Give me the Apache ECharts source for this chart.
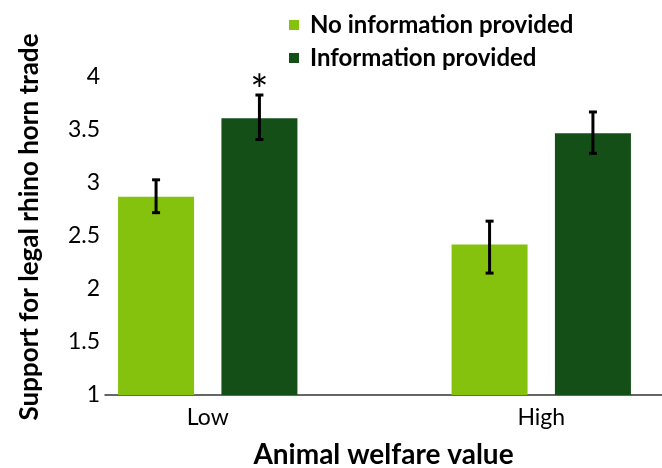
<!DOCTYPE html>
<html>
<head>
<meta charset="utf-8">
<script src="https://cdn.jsdelivr.net/npm/echarts@6/dist/echarts.min.js"></script>
<style>
  html, body { margin: 0; padding: 0; background: #fff; }
  #chart { width: 662px; height: 468px; }
</style>
</head>
<body>
<div id="chart"></div>
<script>
// data
var categories = ['Low', 'High'];
var seriesNames = ['No information provided', 'Information provided'];

var noInfoMeans = [2.87, 2.42];
var noInfoLower = [2.72, 2.15];
var noInfoUpper = [3.03, 2.64];

var infoMeans = [3.61, 3.47];
var infoLower = [3.41, 3.28];
var infoUpper = [3.83, 3.67];

// significance marks over the "information provided" bars
var infoSig = ['*', ''];

var yMin = 1, yMax = 4, yStep = 0.5;

var lightGreen = '#85c20d';
var darkGreen = '#134f17';
var barWidth = 76;
var barGap = 0.36;
var font = 'Lato, "Open Sans", sans-serif';

// error bars for one series (k = 0 left bar, k = 1 right bar)
function errorSeries(k, lower, upper, marks) {
  return {
    type: 'custom',
    xAxisIndex: 1,
    yAxisIndex: 1,
    z: 5,
    silent: true,
    clip: false,
    data: categories.map(function (c, i) {
      return [i, lower[i], upper[i]];
    }),
    renderItem: function (params, api) {
      var off = (k - 0.5) * (barWidth + barWidth * barGap);
      var lo = api.coord([api.value(0), api.value(1)]);
      var hi = api.coord([api.value(0), api.value(2)]);
      var x = lo[0] + off;
      var cap = 4;
      var style = { stroke: '#000', lineWidth: 3 };
      var kids = [
        { type: 'line', shape: { x1: x, y1: lo[1], x2: x, y2: hi[1] }, style: style },
        { type: 'line', shape: { x1: x - cap, y1: lo[1], x2: x + cap, y2: lo[1] }, style: style },
        { type: 'line', shape: { x1: x - cap, y1: hi[1], x2: x + cap, y2: hi[1] }, style: style }
      ];
      var mark = marks ? marks[params.dataIndex] : '';
      if (mark) {
        kids.push({
          type: 'text',
          style: {
            text: mark, x: x, y: hi[1] + 18,
            align: 'center', verticalAlign: 'bottom',
            fontSize: 43, fontFamily: font, fill: '#000'
          }
        });
      }
      return { type: 'group', children: kids };
    }
  };
}

var chart = echarts.init(document.getElementById('chart'));

chart.setOption({
  animation: false,
  textStyle: { fontFamily: font },
  legend: {
    orient: 'vertical',
    left: 284,
    top: 8,
    icon: 'rect',
    itemWidth: 10,
    itemHeight: 10,
    itemGap: 9,
    data: seriesNames,
    textStyle: {
      fontSize: 24, fontWeight: 'bold', color: '#000', fontFamily: font,
      padding: [0, 0, 0, 6]
    }
  },
  grid: [
    // frame grid: visible x axis line, y tick labels and axis titles
    { left: 105, right: 0, top: 77, bottom: 73, outerBoundsMode: 'none' },
    // bar grid: wider than the frame so the bar pairs sit where they do in the figure
    { left: 41, width: 667, top: 77, bottom: 73, outerBoundsMode: 'none' }
  ],
  xAxis: [
    {
      gridIndex: 0,
      type: 'category',
      data: categories,
      axisLine: { lineStyle: { color: '#333', width: 1.5 } },
      axisTick: { show: false },
      axisLabel: { show: false },
      name: 'Animal welfare value',
      nameLocation: 'middle',
      nameGap: 46,
      nameTextStyle: { fontSize: 28, fontWeight: 'bold', color: '#000', fontFamily: font }
    },
    {
      gridIndex: 1,
      type: 'category',
      data: categories,
      axisLine: { show: false },
      axisTick: { show: false },
      axisLabel: { fontSize: 23, color: '#000', margin: 11, fontFamily: font }
    }
  ],
  yAxis: [
    {
      gridIndex: 0,
      type: 'value',
      min: yMin,
      max: yMax,
      interval: yStep,
      axisLine: { show: false },
      axisTick: { show: false },
      splitLine: { show: false },
      axisLabel: { fontSize: 23, color: '#000', margin: 5, fontFamily: font },
      name: 'Support for legal rhino horn trade',
      nameLocation: 'middle',
      nameGap: 62,
      nameTextStyle: {
        fontSize: 26, fontWeight: 'bold', color: '#000', fontFamily: font,
        padding: [0, 0, 0, 18]
      }
    },
    {
      gridIndex: 1,
      type: 'value',
      min: yMin,
      max: yMax,
      interval: yStep,
      show: false
    }
  ],
  series: [
    {
      name: seriesNames[0],
      type: 'bar',
      xAxisIndex: 1,
      yAxisIndex: 1,
      barWidth: barWidth,
      barGap: (barGap * 100) + '%',
      itemStyle: { color: lightGreen },
      data: noInfoMeans
    },
    {
      name: seriesNames[1],
      type: 'bar',
      xAxisIndex: 1,
      yAxisIndex: 1,
      barWidth: barWidth,
      itemStyle: { color: darkGreen },
      data: infoMeans
    },
    errorSeries(0, noInfoLower, noInfoUpper, null),
    errorSeries(1, infoLower, infoUpper, infoSig)
  ]
});
</script>
</body>
</html>
